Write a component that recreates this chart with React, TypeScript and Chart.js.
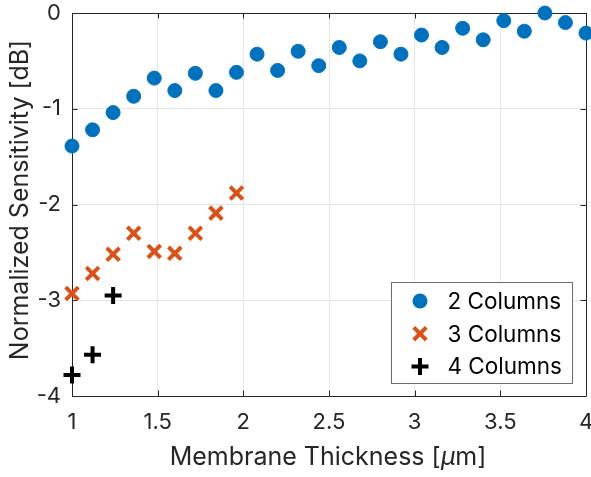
import React, { useEffect, useRef } from "react";
import { Chart, registerables } from "chart.js";

Chart.register(...registerables);

// ---- data ----
const thickness2 = [1.0, 1.12, 1.24, 1.36, 1.48, 1.6, 1.72, 1.84, 1.96, 2.08, 2.2, 2.32, 2.44, 2.56, 2.68, 2.8, 2.92, 3.04, 3.16, 3.28, 3.4, 3.52, 3.64, 3.76, 3.88, 4.0];
const sens2 = [-1.39, -1.22, -1.04, -0.87, -0.68, -0.81, -0.63, -0.81, -0.62, -0.43, -0.6, -0.4, -0.55, -0.36, -0.5, -0.3, -0.43, -0.23, -0.36, -0.16, -0.28, -0.08, -0.19, 0.0, -0.1, -0.21];

const thickness3 = [1.0, 1.12, 1.24, 1.36, 1.48, 1.6, 1.72, 1.84, 1.96];
const sens3 = [-2.93, -2.72, -2.52, -2.3, -2.49, -2.51, -2.3, -2.09, -1.88];

const thickness4 = [1.0, 1.12, 1.24];
const sens4 = [-3.78, -3.57, -2.95];

const seriesLabels = ["2 Columns", "3 Columns", "4 Columns"];
const xTicks = [1, 1.5, 2, 2.5, 3, 3.5, 4];
const yTicks = [0, -1, -2, -3, -4];
const xTitleParts = ["Membrane Thickness [", "\u03bc", "m]"];
const yTitle = "Normalized Sensitivity [dB]";

const FONT = "Inter, 'Liberation Sans', Arial, sans-serif";
const AXIS = "#262626";
const BLUE = "#0072BD";
const ORANGE = "#D95319";
const BLACK = "#000000";

function drawMarker(ctx: CanvasRenderingContext2D, kind: string, x: number, y: number, color: string) {
  ctx.save();
  if (kind === "circle") {
    ctx.fillStyle = color;
    ctx.beginPath();
    ctx.arc(x, y, 7.5, 0, Math.PI * 2);
    ctx.fill();
  } else if (kind === "crossRot") {
    const d = 6.3;
    ctx.strokeStyle = color;
    ctx.lineWidth = 4;
    ctx.beginPath();
    ctx.moveTo(x - d, y - d);
    ctx.lineTo(x + d, y + d);
    ctx.moveTo(x - d, y + d);
    ctx.lineTo(x + d, y - d);
    ctx.stroke();
  } else {
    const d = 8.5;
    ctx.strokeStyle = color;
    ctx.lineWidth = 4;
    ctx.beginPath();
    ctx.moveTo(x - d, y);
    ctx.lineTo(x + d, y);
    ctx.moveTo(x, y - d);
    ctx.lineTo(x, y + d);
    ctx.stroke();
  }
  ctx.restore();
}

const boxPlugin = {
  id: "matlabBox",
  beforeDatasetsDraw(chart: any) {
    const { ctx, chartArea } = chart;
    const { left, right, top, bottom } = chartArea;
    const xs = chart.scales.x;
    const ys = chart.scales.y;
    ctx.save();
    ctx.strokeStyle = AXIS;
    ctx.lineWidth = 1;
    ctx.beginPath();
    ctx.rect(Math.round(left) + 0.5, Math.round(top) + 0.5, Math.round(right - left), Math.round(bottom - top));
    ctx.stroke();
    const tl = 5.5;
    ctx.beginPath();
    xTicks.forEach((v) => {
      const px = Math.round(xs.getPixelForValue(v)) + 0.5;
      ctx.moveTo(px, bottom);
      ctx.lineTo(px, bottom - tl);
      ctx.moveTo(px, top);
      ctx.lineTo(px, top + tl);
    });
    yTicks.forEach((v) => {
      const py = Math.round(ys.getPixelForValue(v)) + 0.5;
      ctx.moveTo(left, py);
      ctx.lineTo(left + tl, py);
      ctx.moveTo(right, py);
      ctx.lineTo(right - tl, py);
    });
    ctx.stroke();
    ctx.restore();
  },
  afterDraw(chart: any) {
    const { ctx, chartArea } = chart;
    ctx.save();
    // x title with italic mu
    const fs = 25;
    const normal = `${fs}px ${FONT}`;
    const italic = `italic ${fs}px ${FONT}`;
    ctx.fillStyle = AXIS;
    ctx.textBaseline = "alphabetic";
    ctx.textAlign = "left";
    ctx.font = normal;
    const w0 = ctx.measureText(xTitleParts[0]).width;
    const w2 = ctx.measureText(xTitleParts[2]).width;
    ctx.font = italic;
    const w1 = ctx.measureText(xTitleParts[1]).width;
    const total = w0 + w1 + w2;
    const cx = (chartArea.left + chartArea.right) / 2 - 1;
    let x = cx - total / 2;
    const by = 465;
    ctx.font = normal;
    ctx.fillText(xTitleParts[0], x, by);
    x += w0;
    ctx.font = italic;
    ctx.fillText(xTitleParts[1], x, by);
    x += w1;
    ctx.font = normal;
    ctx.fillText(xTitleParts[2], x, by);

    // y title
    ctx.save();
    ctx.translate(28, 200);
    ctx.rotate(-Math.PI / 2);
    ctx.textAlign = "center";
    ctx.font = normal;
    ctx.fillText(yTitle, 0, 0);
    ctx.restore();

    // legend
    const lw = 181;
    const lh = 101;
    const lx = Math.round(chartArea.right - 14 - lw) + 0.5;
    const ly = Math.round(chartArea.bottom - 13 - lh) + 0.5;
    ctx.fillStyle = "#ffffff";
    ctx.fillRect(lx, ly, lw, lh);
    ctx.strokeStyle = "#6e6e6e";
    ctx.lineWidth = 1;
    ctx.strokeRect(lx, ly, lw, lh);
    const kinds = ["circle", "crossRot", "cross"];
    const colors = [BLUE, ORANGE, BLACK];
    ctx.font = `22.5px ${FONT}`;
    ctx.textAlign = "left";
    ctx.textBaseline = "alphabetic";
    seriesLabels.forEach((lab, i) => {
      const ry = ly + 18.5 + i * 32.7;
      drawMarker(ctx, kinds[i], lx + 28.5, ry, colors[i]);
      ctx.fillStyle = "#000000";
      ctx.fillText(lab, lx + 56, ry + 8);
    });
    ctx.restore();
  },
};

function zeroPad(s: any) {
  s.paddingLeft = 0;
  s.paddingRight = 0;
  s.paddingTop = 0;
  s.paddingBottom = 0;
}

export default function App() {
  const ref = useRef<HTMLCanvasElement | null>(null);

  useEffect(() => {
    if (!ref.current) return;
    const mk = (xs: number[], ys: number[]) => xs.map((x, i) => ({ x, y: ys[i] }));
    const chart = new Chart(ref.current, {
      type: "scatter",
      data: {
        datasets: [
          {
            label: seriesLabels[0],
            data: mk(thickness2, sens2),
            pointStyle: "circle",
            pointRadius: 7,
            pointBorderWidth: 1,
            backgroundColor: BLUE,
            borderColor: BLUE,
            clip: false as any,
          },
          {
            label: seriesLabels[1],
            data: mk(thickness3, sens3),
            pointStyle: "crossRot",
            pointRadius: 9,
            pointBorderWidth: 4,
            backgroundColor: ORANGE,
            borderColor: ORANGE,
            clip: false as any,
          },
          {
            label: seriesLabels[2],
            data: mk(thickness4, sens4),
            pointStyle: "cross",
            pointRadius: 8.5,
            pointBorderWidth: 4,
            backgroundColor: BLACK,
            borderColor: BLACK,
            clip: false as any,
          },
        ],
      },
      options: {
        animation: false,
        responsive: false,
        events: [],
        layout: { autoPadding: false, padding: { top: 13, right: 5, left: 0, bottom: 0 } },
        plugins: {
          legend: { display: false },
          tooltip: { enabled: false },
        },
        scales: {
          x: {
            type: "linear",
            min: 1,
            max: 4,
            afterBuildTicks: (s: any) => {
              s.ticks = xTicks.map((v) => ({ value: v }));
            },
            afterFit: (s: any) => {
              s.height = 81;
              zeroPad(s);
            },
            grid: { color: "#e6e6e6", drawTicks: false, lineWidth: 1 },
            border: { display: false },
            ticks: {
              color: AXIS,
              font: { family: FONT, size: 22 },
              padding: 13,
              maxRotation: 0,
              autoSkip: false,
              callback: (v: any) => String(v),
            },
            title: { display: false },
          },
          y: {
            type: "linear",
            min: -4,
            max: 0,
            afterBuildTicks: (s: any) => {
              s.ticks = yTicks.map((v) => ({ value: v }));
            },
            afterFit: (s: any) => {
              s.width = 72;
              zeroPad(s);
            },
            grid: { color: "#e6e6e6", drawTicks: false, lineWidth: 1 },
            border: { display: false },
            ticks: {
              color: AXIS,
              font: { family: FONT, size: 22 },
              padding: 11,
              autoSkip: false,
              callback: (v: any) => String(v),
            },
            title: { display: false },
          },
        },
      },
      plugins: [boxPlugin],
    });
    return () => chart.destroy();
  }, []);

  return (
    <div style={{ position: "absolute", left: 0, top: 0, width: 591, height: 477, background: "#fff" }}>
      <canvas ref={ref} width={591} height={477} style={{ display: "block" }} />
    </div>
  );
}
